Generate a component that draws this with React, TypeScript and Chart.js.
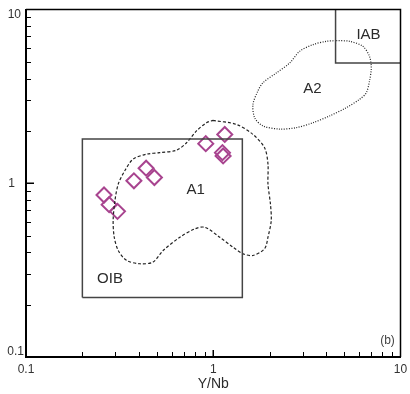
import React, { useEffect, useRef } from 'react';
import { Chart, registerables } from 'chart.js';

Chart.register(...registerables);

// Samples (Y/Nb vs Zr/Nb-type ratio, log-log)
const sampleX = [0.261, 0.278, 0.308, 0.377, 0.438, 0.485, 0.912, 1.152, 1.12, 1.129];
const sampleY = [0.856, 0.753, 0.689, 1.033, 1.221, 1.079, 1.69, 1.91, 1.5, 1.436];

// A1 field outline (dashed)
const a1X = [0.998, 1.33, 1.63, 1.88, 1.96, 1.96, 2.02, 2.04, 1.96, 1.88, 1.63, 1.44, 1.275, 1.083, 0.901, 0.797, 0.663, 0.54, 0.477, 0.406, 0.344, 0.311, 0.296, 0.292, 0.2985, 0.311, 0.337, 0.373, 0.44, 0.518, 0.637, 0.72, 0.814, 0.92, 0.998];
const a1Y = [2.3, 2.18, 1.91, 1.6, 1.29, 0.99, 0.76, 0.61, 0.489, 0.42, 0.384, 0.393, 0.429, 0.489, 0.558, 0.546, 0.489, 0.41, 0.352, 0.344, 0.36, 0.41, 0.489, 0.61, 0.794, 0.99, 1.18, 1.376, 1.47, 1.5, 1.55, 1.71, 2.0, 2.23, 2.3];

// A2 field outline (dotted)
const a2X = [4.54, 5.35, 6.29, 6.83, 6.98, 6.83, 6.56, 6.04, 5.13, 4.18, 3.41, 2.78, 2.26, 1.84, 1.665, 1.63, 1.73, 1.84, 2.17, 2.56, 2.89, 3.41, 4.02, 4.54];
const a2Y = [6.62, 6.56, 6.14, 5.38, 4.61, 3.87, 3.31, 3.04, 2.72, 2.44, 2.23, 2.09, 2.05, 2.14, 2.38, 2.84, 3.39, 3.78, 4.31, 4.92, 5.74, 6.28, 6.56, 6.62];

// OIB and IAB boxes
const oibX = [0.2, 1.43, 1.43, 0.2, 0.2];
const oibY = [0.22, 0.22, 1.8, 1.8, 0.22];
const iabX = [4.5, 4.5, 10];
const iabY = [10, 4.92, 4.92];

// Field labels
const fieldLabels = ['IAB', 'A2', 'A1', 'OIB'];
const fieldLabelX = [6.75, 3.39, 0.805, 0.281];
const fieldLabelY = [7.1, 3.5, 0.918, 0.2825];

// Axis ticks
const majorTicks = [0.1, 1, 10];
const tickLabels = ['0.1', '1', '10'];
const xTitle = 'Y/Nb';
const panelLabel = '(b)';

const zip = (xs: number[], ys: number[]) => xs.map((x, i) => ({ x, y: ys[i] }));

const FONT = "'Liberation Sans', Arial, sans-serif";

export default function App() {
  const ref = useRef<HTMLCanvasElement>(null);

  useEffect(() => {
    if (!ref.current) return;

    const overlay = {
      id: 'overlay',
      afterDraw(chart: any) {
        const ctx = chart.ctx;
        const xs = chart.scales.x;
        const ys = chart.scales.y;
        const a = chart.chartArea;
        ctx.save();
        // frame top/right
        ctx.strokeStyle = '#000';
        ctx.lineWidth = 1.5;
        ctx.beginPath();
        ctx.moveTo(a.left, a.top);
        ctx.lineTo(a.right, a.top);
        ctx.lineTo(a.right, a.bottom);
        ctx.stroke();
        // inward ticks
        const minors: number[] = [];
        [0.1, 1].forEach((d) => {
          for (let k = 2; k <= 9; k++) minors.push(d * k);
        });
        ctx.lineWidth = 1;
        minors.forEach((v) => {
          const px = Math.round(xs.getPixelForValue(v)) + 0.5;
          ctx.beginPath();
          ctx.moveTo(px, a.bottom);
          ctx.lineTo(px, a.bottom - 5);
          ctx.stroke();
          const py = Math.round(ys.getPixelForValue(v)) + 0.5;
          ctx.beginPath();
          ctx.moveTo(a.left, py);
          ctx.lineTo(a.left + 5, py);
          ctx.stroke();
        });
        ctx.lineWidth = 1.5;
        {
          const px = xs.getPixelForValue(1);
          ctx.beginPath();
          ctx.moveTo(px, a.bottom);
          ctx.lineTo(px, a.bottom - 7);
          ctx.stroke();
          const py = ys.getPixelForValue(1);
          ctx.beginPath();
          ctx.moveTo(a.left, py);
          ctx.lineTo(a.left + 8, py);
          ctx.stroke();
        }
        // tick labels (kept inside the axis span like the original)
        ctx.fillStyle = '#333';
        ctx.font = `12px ${FONT}`;
        ctx.textBaseline = 'middle';
        ctx.textAlign = 'right';
        const yRight = [24, 15, 21];
        majorTicks.forEach((v, i) => {
          let py = ys.getPixelForValue(v);
          py = Math.min(a.bottom - 5, Math.max(a.top + 5, py));
          ctx.fillText(tickLabels[i], yRight[i], py);
        });
        ctx.textAlign = 'center';
        majorTicks.forEach((v, i) => {
          let px = xs.getPixelForValue(v);
          px = Math.max(22, px);
          ctx.fillText(tickLabels[i], px, a.bottom + 13);
        });
        // field labels
        ctx.fillStyle = '#2b2b2b';
        ctx.font = `15px ${FONT}`;
        fieldLabels.forEach((t, i) => {
          ctx.fillText(t, xs.getPixelForValue(fieldLabelX[i]), ys.getPixelForValue(fieldLabelY[i]));
        });
        ctx.font = `12px ${FONT}`;
        ctx.fillStyle = '#444';
        ctx.fillText(panelLabel, a.right - 13, a.bottom - 16);
        // x title
        ctx.fillStyle = '#2b2b2b';
        ctx.font = `14px ${FONT}`;
        ctx.fillText(xTitle, (a.left + a.right) / 2, a.bottom + 27);
        ctx.restore();
      },
    };

    const logScale = (axis: 'x' | 'y') => ({
      type: 'logarithmic' as const,
      min: 0.1,
      max: 10,
      grid: { display: false, drawTicks: false },
      border: { display: true, color: '#000', width: 2 },
      afterBuildTicks: (s: any) => {
        s.ticks = majorTicks.map((v) => ({ value: v, major: true }));
      },
      afterFit: (s: any) => {
        if (axis === 'y') {
          s.width = 26;
          s.paddingTop = 0;
          s.paddingBottom = 0;
        } else {
          s.height = 37;
          s.paddingLeft = 0;
          s.paddingRight = 0;
        }
      },
      ticks: { display: false },
    });

    const lineDs = (data: any[], dash: number[], color: string, width: number, tension: number) => ({
      type: 'line' as const,
      data,
      borderColor: color,
      borderWidth: width,
      borderDash: dash,
      pointRadius: 0,
      fill: false,
      tension,
      showLine: true,
    });

    const chart = new Chart(ref.current, {
      type: 'scatter',
      data: {
        datasets: [
          lineDs(zip(oibX, oibY), [], '#444', 1.5, 0) as any,
          lineDs(zip(iabX, iabY), [], '#444', 1.5, 0) as any,
          lineDs(zip(a1X, a1Y), [3, 2], '#222', 1.2, 0.3) as any,
          lineDs(zip(a2X, a2Y), [1, 1.5], '#222', 1.2, 0.3) as any,
          {
            type: 'scatter',
            data: zip(sampleX, sampleY),
            pointStyle: 'rectRot',
            pointRadius: 7.5,
            pointBorderWidth: 2,
            borderColor: '#a8448f',
            backgroundColor: 'rgba(0,0,0,0)',
            pointBackgroundColor: 'rgba(0,0,0,0)',
            pointBorderColor: '#a8448f',
          } as any,
        ],
      },
      options: {
        animation: false,
        responsive: false,
        maintainAspectRatio: false,
        layout: { padding: { top: 8, right: 9, left: 0, bottom: 0 } },
        plugins: { legend: { display: false }, tooltip: { enabled: false } },
        scales: { x: logScale('x') as any, y: logScale('y') as any },
      },
      plugins: [overlay],
    });
    return () => chart.destroy();
  }, []);

  return (
    <div style={{ position: 'fixed', left: 0, top: 0, width: 410, height: 394, background: '#fff' }}>
      <canvas ref={ref} width={410} height={394} style={{ display: 'block', width: 410, height: 394 }} />
    </div>
  );
}
